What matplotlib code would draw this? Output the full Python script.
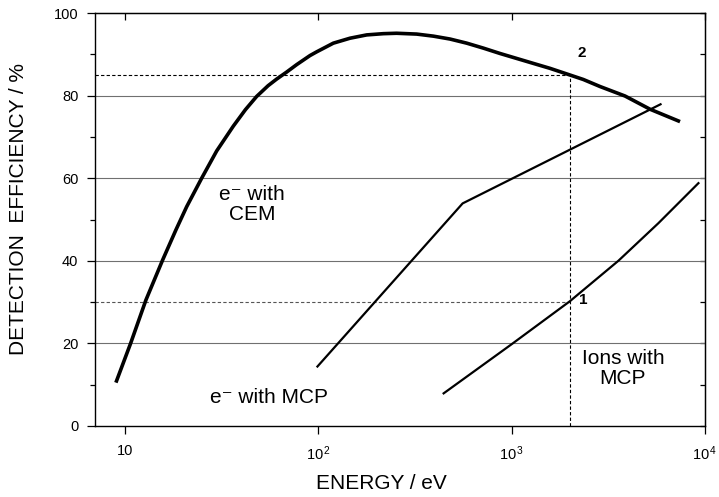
import numpy as np
import matplotlib.pyplot as plt

plt.rcParams['font.family'] = ['Liberation Sans', 'DejaVu Sans']
plt.rcParams['mathtext.fontset'] = 'custom'
plt.rcParams['mathtext.rm'] = 'Liberation Sans'
plt.rcParams['mathtext.it'] = 'Liberation Sans'

# electrons detected with a channel electron multiplier (curve 2)
cem_energy = [8.98, 10.70, 12.84, 15.67, 18.36, 20.86, 24.94, 29.82, 36.34, 42.0, 48.0,
              55.0, 60.9, 68.6, 77.3, 90.6, 98.1, 119.6, 145.9, 178, 217, 254, 323, 394,
              480, 586, 714, 871, 1062, 1295, 1580, 2000, 2350, 2866, 3860, 5200, 7430]
cem_eff = [10.5, 20.0, 30.5, 40.2, 47.5, 53.1, 60.0, 66.6, 72.6, 76.6, 79.8,
           82.4, 84.0, 85.7, 87.5, 89.7, 90.6, 92.7, 93.9, 94.7, 95.0, 95.1, 94.9, 94.4,
           93.7, 92.7, 91.5, 90.2, 89.0, 87.8, 86.6, 85.0, 83.9, 82.2, 79.9, 76.7, 73.7]

# electrons detected with a microchannel plate
mcp_e_energy = [99, 558, 5890]
mcp_e_eff = [14.4, 53.9, 77.9]

# ions detected with a microchannel plate (curve 1)
mcp_ion_energy = [445, 1000, 2000, 3565, 5740, 9250]
mcp_ion_eff = [7.9, 19.8, 30.2, 40.0, 49.1, 58.8]

x_ticks = [10, 100, 1000, 10000]
x_ticklabels = ['10', r'$\mathregular{10^{\,2}}$', r'$\mathregular{10^{\,3}}$', r'$\mathregular{10^{\,4}}$']

fig = plt.figure(figsize=(7.19, 4.97), dpi=100)
ax = fig.add_axes([0.1321, 0.1429, 0.8484, 0.8309])

ax.set_xscale('log')
ax.set_xlim(7.0, 10000)
ax.set_ylim(0, 100)

# horizontal grid
for g in [20, 40, 60, 80]:
    ax.axhline(g, color='#707070', lw=0.8, zorder=1)

# reading lines at 2 keV
ax.plot([7.0, 2000], [85, 85], color='black', lw=0.8, ls=(0, (3, 2)), zorder=2)
ax.plot([7.0, 2000], [30, 30], color='#555555', lw=0.8, ls=(0, (3, 2)), zorder=2)
ax.plot([2000, 2000], [0, 85], color='black', lw=0.8, ls=(0, (3, 2)), zorder=2)

ax.plot(cem_energy, cem_eff, color='black', lw=2.6, zorder=3,
        solid_joinstyle='round', solid_capstyle='butt')
ax.plot(mcp_e_energy, mcp_e_eff, color='black', lw=1.6, zorder=3)
ax.plot(mcp_ion_energy, mcp_ion_eff, color='black', lw=1.6, zorder=3,
        solid_joinstyle='round')

ax.text(45.5, 53.6, 'e\u207b with\nCEM', ha='center', va='center', fontsize=15, linespacing=1.1)
ax.text(27.5, 7.0, 'e\u207b with MCP', ha='left', va='center', fontsize=15)
ax.text(3760, 13.9, 'Ions with\nMCP', ha='center', va='center', fontsize=15, linespacing=1.1)
ax.text(2300, 90.3, '2', ha='center', va='center', fontsize=11, fontweight='bold')
ax.text(2350, 30.5, '1', ha='center', va='center', fontsize=11, fontweight='bold')

# left / bottom ticks point outward
ax.set_xticks(x_ticks)
ax.set_xticklabels(x_ticklabels)
ax.xaxis.set_minor_locator(plt.NullLocator())
ax.set_yticks(np.arange(0, 101, 20))
ax.set_yticks(np.arange(10, 100, 20), minor=True)
ax.tick_params(axis='both', which='major', direction='out', length=6, width=0.9,
               labelsize=10.5, top=False, right=False)
ax.tick_params(axis='y', which='minor', direction='out', length=3.6, width=0.9, right=False)
ax.tick_params(axis='x', which='major', pad=7)
ax.tick_params(axis='y', which='major', pad=6)

# top / right ticks point inward, no labels
top = ax.secondary_xaxis('top')
top.set_xticks(x_ticks)
top.xaxis.set_minor_locator(plt.NullLocator())
top.tick_params(direction='in', length=5, width=0.9, labeltop=False)
right = ax.secondary_yaxis('right')
right.set_yticks(np.arange(0, 101, 10))
right.tick_params(direction='in', length=3.6, width=0.9, labelright=False)

for sp in ax.spines.values():
    sp.set_linewidth(1.0)

fig.text(0.0264, 0.58, 'DETECTION  EFFICIENCY / %', rotation=90, ha='center', va='center', fontsize=15)
fig.text(0.531, 0.028, 'ENERGY / eV', ha='center', va='center', fontsize=15)

fig.savefig('out.png', dpi=100)
